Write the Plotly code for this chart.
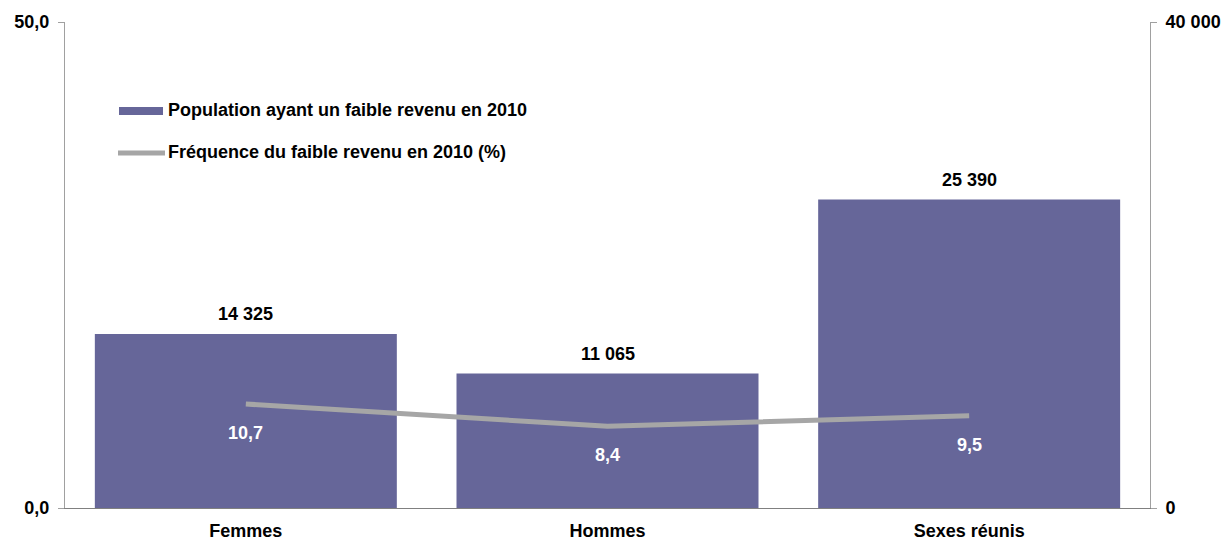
import plotly.graph_objects as go

categories = ["Femmes", "Hommes", "Sexes réunis"]
population = [14325, 11065, 25390]
frequence = [10.7, 8.4, 9.5]
pop_name = "Population ayant un faible revenu en 2010"
freq_name = "Fréquence du faible revenu en 2010 (%)"
left_tickvals = [0, 50]
left_ticktext = ["0,0", "50,0"]
right_tickvals = [0, 40000]
right_ticktext = ["0", "40 000"]

BAR = "#666699"
LINE = "#A6A6A6"
AX = "#A0A0A0"
FONT = dict(family="Liberation Sans, Arial, sans-serif", size=18, color="#000000", weight="bold")

OFF = 8  # page body margin
W, H = 1231 - 2 * OFF, 540 - OFF
# target plot area in page pixels: x 65..1150, y 22..508
L = 65 - OFF
T = 22 - OFF
R = W - (1150 - OFF)
B = H - (508 - OFF)
pw, ph = W - L - R, H - T - B

def px(x):
    return (x - OFF - L) / pw

def py(y):
    return (H - B - (y - OFF)) / ph

fig = go.Figure()
fig.add_trace(go.Bar(x=categories, y=population, marker=dict(color=BAR, line=dict(width=0)),
                     name=pop_name, yaxis="y", showlegend=False))
fig.add_trace(go.Scatter(x=categories, y=frequence, mode="lines", line=dict(color=LINE, width=5),
                         name=freq_name, yaxis="y2", showlegend=False))

annotations = []
for c, v in zip(categories, population):
    annotations.append(dict(x=c, y=v, xref="x", yref="y", text=f"{v:,}".replace(",", " "),
                            showarrow=False, yshift=20, font=FONT))
for c, v in zip(categories, frequence):
    annotations.append(dict(x=c, y=v, xref="x", yref="y2", text=f"{v:.1f}".replace(".", ","),
                            showarrow=False, yshift=-29, font=dict(FONT, color="#FFFFFF")))

# custom legend
annotations.append(dict(x=px(166), y=py(110), xref="paper", yref="paper", xanchor="left", yanchor="middle",
                        text=pop_name, showarrow=False, font=FONT))
annotations.append(dict(x=px(166), y=py(152), xref="paper", yref="paper", xanchor="left", yanchor="middle",
                        text=freq_name, showarrow=False, font=FONT))
shapes = [
    dict(type="rect", xref="paper", yref="paper", x0=px(119), x1=px(163), y0=py(115), y1=py(107),
         fillcolor=BAR, line=dict(width=0)),
    dict(type="line", xref="paper", yref="paper", x0=px(118), x1=px(165), y0=py(153), y1=py(153),
         line=dict(color=LINE, width=5)),
]

fig.update_layout(
    width=W, height=H,
    margin=dict(l=L, r=R, t=T, b=B, autoexpand=False),
    paper_bgcolor="white", plot_bgcolor="white",
    bargap=0.165,
    font=FONT,
    xaxis=dict(showline=True, linecolor="#808080", linewidth=1, ticks="outside", ticklen=6,
               tickcolor="rgba(0,0,0,0)", showgrid=False,
               tickfont=FONT, zeroline=False, automargin=False),
    yaxis=dict(side="right", range=[0, 40000], tickvals=right_tickvals, ticktext=right_ticktext,
               showline=True, linecolor=AX, linewidth=1, ticks="outside", ticklen=6, tickcolor=AX,
               ticklabelstandoff=5,
               showgrid=False, zeroline=False, tickfont=FONT, automargin=False),
    yaxis2=dict(side="left", overlaying="y", range=[0, 50], tickvals=left_tickvals, ticktext=left_ticktext,
                showline=True, linecolor=AX, linewidth=1, ticks="outside", ticklen=6, tickcolor=AX,
                ticklabelstandoff=5,
                showgrid=False, zeroline=False, tickfont=FONT, automargin=False),
    annotations=annotations,
    shapes=shapes,
    showlegend=False,
)

fig.write_html("out.html")
